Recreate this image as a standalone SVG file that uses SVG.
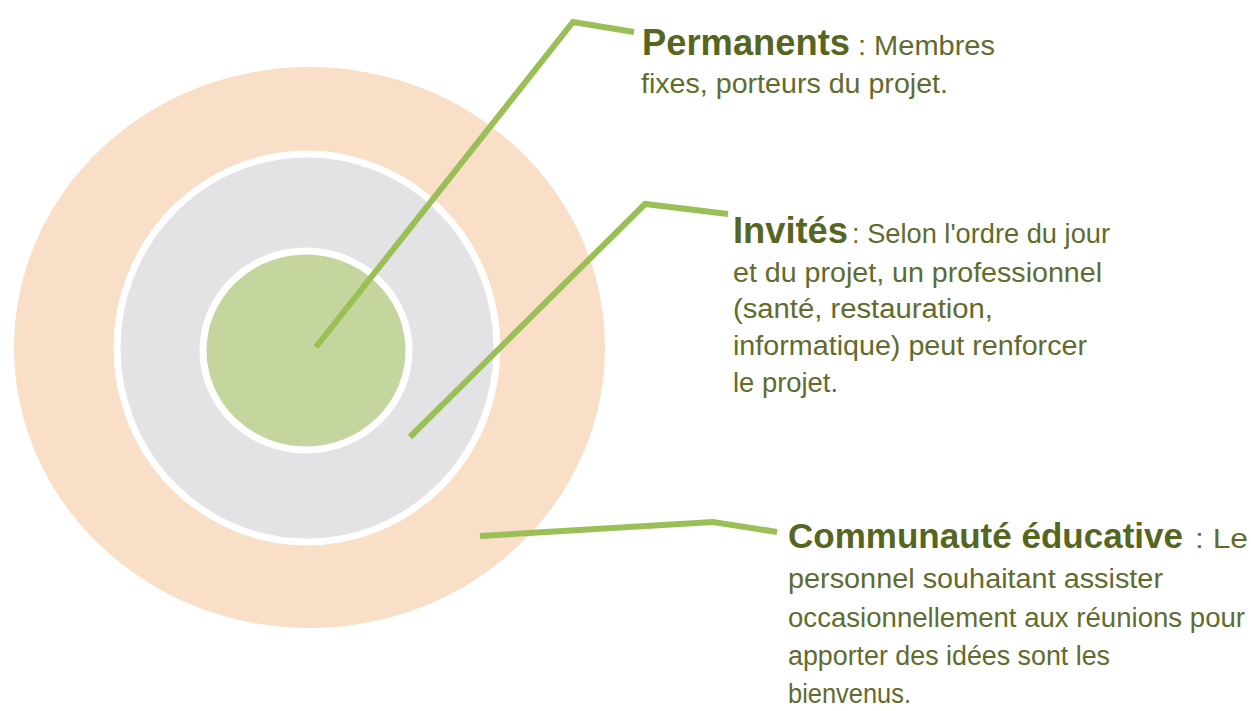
<svg xmlns="http://www.w3.org/2000/svg" width="1251" height="711" viewBox="0 0 1251 711">
<style>
.title{font-family:"Liberation Sans",Arial,sans-serif;font-weight:bold;fill:#56661f}
.body{font-family:"Liberation Sans",Arial,sans-serif;font-size:27px;fill:#5f6c2e}
.conn{fill:none;stroke:#9bbf57;stroke-width:6;stroke-linejoin:miter}
</style>
<rect width="1251" height="711" fill="#ffffff"/>
<g id="ring-communaute">
<ellipse cx="309.5" cy="347.5" rx="295.5" ry="280.5" fill="#fadfc8"/>
</g>
<g id="ring-invites">
<ellipse cx="307" cy="348" rx="190" ry="194" fill="#e3e3e5" stroke="#ffffff" stroke-width="7"/>
</g>
<g id="ring-permanents">
<ellipse cx="306" cy="350.5" rx="103" ry="99.5" fill="#c4d69e" stroke="#ffffff" stroke-width="7"/>
</g>
<g id="connectors">
<polyline class="conn" points="316,347 573,22 634,32"/>
<polyline class="conn" points="410,437 645,204 728,214"/>
<polyline class="conn" points="480,536 713,522 777,532"/>
</g>
<g id="label-permanents">
<text class="title" x="642" y="55" font-size="36" textLength="208" lengthAdjust="spacingAndGlyphs">Permanents</text>
<text class="body" x="858" y="55" textLength="137" lengthAdjust="spacingAndGlyphs">: Membres</text>
<text class="body" x="641" y="93" textLength="307" lengthAdjust="spacingAndGlyphs">fixes, porteurs du projet.</text>
</g>
<g id="label-invites">
<text class="title" x="733" y="243" font-size="36" textLength="115" lengthAdjust="spacingAndGlyphs">Invités</text>
<text class="body" x="852" y="243" textLength="258" lengthAdjust="spacingAndGlyphs">: Selon l'ordre du jour</text>
<text class="body" x="733" y="282" textLength="369" lengthAdjust="spacingAndGlyphs">et du projet, un professionnel</text>
<text class="body" x="733" y="318" textLength="260" lengthAdjust="spacingAndGlyphs">(santé, restauration,</text>
<text class="body" x="733" y="355" textLength="354" lengthAdjust="spacingAndGlyphs">informatique) peut renforcer</text>
<text class="body" x="733" y="392" textLength="105" lengthAdjust="spacingAndGlyphs">le projet.</text>
</g>
<g id="label-communaute">
<text class="title" x="788" y="548" font-size="34.5" textLength="395" lengthAdjust="spacingAndGlyphs">Communauté éducative</text>
<text class="body" x="1195" y="548" textLength="53" lengthAdjust="spacingAndGlyphs">: Le</text>
<text class="body" x="788" y="588" textLength="375" lengthAdjust="spacingAndGlyphs">personnel souhaitant assister</text>
<text class="body" x="788" y="627" textLength="457" lengthAdjust="spacingAndGlyphs">occasionnellement aux réunions pour</text>
<text class="body" x="788" y="665" textLength="322" lengthAdjust="spacingAndGlyphs">apporter des idées sont les</text>
<text class="body" x="788" y="703" textLength="123" lengthAdjust="spacingAndGlyphs">bienvenus.</text>
</g>
</svg>
